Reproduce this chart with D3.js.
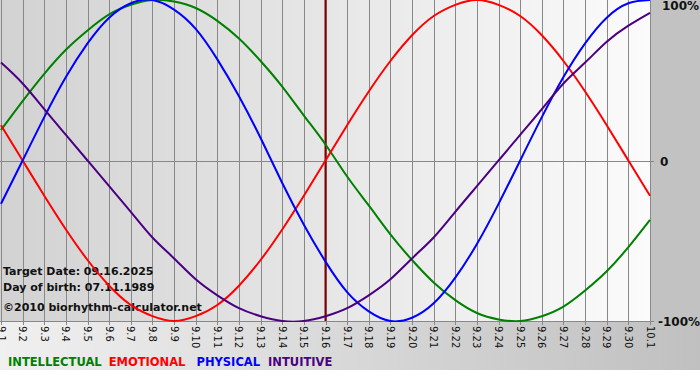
<!DOCTYPE html>
<html>
<head>
<meta charset="utf-8">
<script src="https://cdn.jsdelivr.net/npm/d3@7"></script>
<style>
  body { margin: 0; background: #fff; }
  svg { display: block; font-family: "DejaVu Sans", Verdana, sans-serif; }
</style>
</head>
<body>
<svg id="chart" width="700" height="380"></svg>
<script>
// day labels on the x axis (Sept 1 .. Oct 1)
const days = ["9.1","9.2","9.3","9.4","9.5","9.6","9.7","9.8","9.9","9.10","9.11","9.12","9.13","9.14","9.15","9.16",
  "9.17","9.18","9.19","9.20","9.21","9.22","9.23","9.24","9.25","9.26","9.27","9.28","9.29","9.30","10.1"];

// cycle values per day, -1..1
const intellectual = [0.19,0.37,0.54,0.69,0.81,0.91,0.97,1.00,0.99,0.95,0.87,0.76,0.62,0.46,0.28,0.10,
  -0.10,-0.28,-0.46,-0.62,-0.76,-0.87,-0.95,-0.99,-1.00,-0.97,-0.91,-0.81,-0.69,-0.54,-0.37];
const emotional = [0.22,0.00,-0.22,-0.43,-0.62,-0.78,-0.90,-0.97,-1.00,-0.97,-0.90,-0.78,-0.62,-0.43,-0.22,0.00,
  0.22,0.43,0.62,0.78,0.90,0.97,1.00,0.97,0.90,0.78,0.62,0.43,0.22,0.00,-0.22];
const physical = [-0.27,0.00,0.27,0.52,0.73,0.89,0.98,1.00,0.94,0.82,0.63,0.40,0.14,-0.14,-0.40,-0.63,
  -0.82,-0.94,-1.00,-0.98,-0.89,-0.73,-0.52,-0.27,0.00,0.27,0.52,0.73,0.89,0.98,1.00];
const intuitive = [0.61,0.48,0.32,0.16,0.00,-0.16,-0.32,-0.48,-0.61,-0.74,-0.84,-0.92,-0.97,-1.00,-1.00,-0.97,
  -0.92,-0.84,-0.74,-0.61,-0.48,-0.32,-0.16,0.00,0.16,0.32,0.48,0.61,0.74,0.84,0.92];

const seriesNames = ["INTELLECTUAL","EMOTIONAL","PHYSICAL","INTUITIVE"];
const seriesColors = ["#008000","#ff0000","#0000ff","#4b0082"];
const yLabels = ["100%","0","-100%"];
const targetIndex = 15;

const svg = d3.select("#chart");
const plot = { left: 1, right: 650, top: 0, bottom: 321 };

const x = d3.scaleLinear().domain([0, days.length - 1]).range([plot.left, plot.right]);
const y = d3.scaleLinear().domain([-1, 1]).range([plot.bottom, plot.top]);

const defs = svg.append("defs");
const bgGrad = defs.append("linearGradient").attr("id", "bgGrad");
bgGrad.append("stop").attr("offset", "0%").attr("stop-color", "#f0f0f0");
bgGrad.append("stop").attr("offset", "100%").attr("stop-color", "#c0c0c0");
const plotGrad = defs.append("linearGradient").attr("id", "plotGrad");
plotGrad.append("stop").attr("offset", "0%").attr("stop-color", "#d2d2d2");
plotGrad.append("stop").attr("offset", "100%").attr("stop-color", "#fbfbfb");
defs.append("clipPath").attr("id", "clip")
  .append("rect").attr("x", 0).attr("y", 0).attr("width", plot.right + 1).attr("height", plot.bottom + 1);

// backgrounds
svg.append("rect").attr("width", 700).attr("height", 370).attr("fill", "url(#bgGrad)");
svg.append("rect").attr("x", 650).attr("width", 50).attr("height", 322).attr("fill", "#c2c2c2");
svg.append("rect").attr("x", 0).attr("y", 0)
  .attr("width", plot.right).attr("height", plot.bottom)
  .attr("fill", "url(#plotGrad)");

// vertical grid
svg.append("g")
  .selectAll("line")
  .data(days)
  .enter().append("line")
  .attr("x1", (d, i) => Math.round(x(i)) + 0.5)
  .attr("x2", (d, i) => Math.round(x(i)) + 0.5)
  .attr("y1", plot.top)
  .attr("y2", plot.bottom + 4)
  .attr("stroke", "#888")
  .attr("stroke-width", 1);

// zero and bottom lines
svg.append("line")
  .attr("x1", 0).attr("x2", plot.right + 4)
  .attr("y1", Math.round(y(0)) + 0.5).attr("y2", Math.round(y(0)) + 0.5)
  .attr("stroke", "#888");
svg.append("line")
  .attr("x1", 0).attr("x2", plot.right + 4)
  .attr("y1", plot.bottom + 0.5).attr("y2", plot.bottom + 0.5)
  .attr("stroke", "#888");

// info texts
const info = svg.append("g")
  .attr("font-weight", "bold")
  .attr("font-size", "11px")
  .attr("fill", "#111");
info.append("text").attr("x", 3).attr("y", 275).text("Target Date: 09.16.2025");
info.append("text").attr("x", 3).attr("y", 291).text("Day of birth: 07.11.1989");
info.append("text").attr("x", 3).attr("y", 311).text("\u00a92010 biorhythm-calculator.net");

// target day marker
svg.append("line")
  .attr("x1", x(targetIndex)).attr("x2", x(targetIndex))
  .attr("y1", plot.top).attr("y2", plot.bottom)
  .attr("stroke", "#800000")
  .attr("stroke-width", 2);

// curves
const line = d3.line()
  .x((d, i) => x(i))
  .y(d => y(d))
  .curve(d3.curveNatural);

svg.append("g")
  .attr("clip-path", "url(#clip)")
  .selectAll("path")
  .data([intellectual, emotional, physical, intuitive])
  .enter().append("path")
  .attr("d", line)
  .attr("fill", "none")
  .attr("stroke", (d, i) => seriesColors[i])
  .attr("stroke-width", 2);

// x tick labels, rotated
svg.append("g")
  .selectAll("text")
  .data(days)
  .enter().append("text")
  .attr("transform", (d, i) => "translate(" + x(i) + "," + (plot.bottom + 5) + ") rotate(90)")
  .attr("dy", "0.35em")
  .attr("font-size", "10px")
  .attr("fill", "#111")
  .text(d => d);

// right side percent labels
svg.append("g")
  .selectAll("text")
  .data(yLabels)
  .enter().append("text")
  .attr("x", (d, i) => i == 2 ? 658 : (i == 1 ? 660 : 662))
  .attr("y", (d, i) => y([1, 0, -1][i]) + [10, 5, 5][i])
  .attr("font-size", "12px")
  .attr("font-weight", "bold")
  .attr("fill", "#111")
  .text(d => d);

// legend
const legendGaps = [0, 7, 11, 8];
const legend = svg.append("text")
  .attr("x", 8)
  .attr("y", 366)
  .attr("font-size", "11.5px")
  .attr("font-weight", "bold");
seriesNames.forEach((name, i) => {
  legend.append("tspan")
    .attr("dx", legendGaps[i])
    .attr("fill", seriesColors[i])
    .text(name);
});
</script>
</body>
</html>
